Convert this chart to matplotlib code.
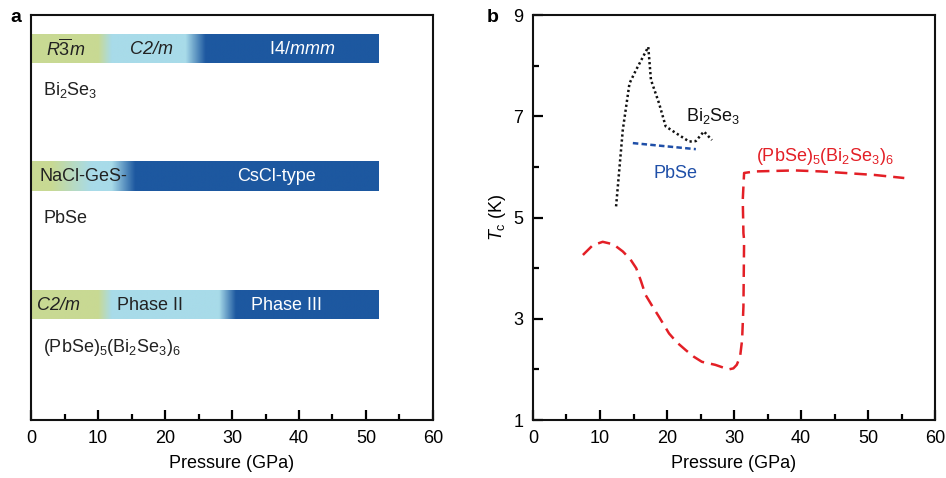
import numpy as np
import matplotlib
matplotlib.use("Agg")
import matplotlib.pyplot as plt
from matplotlib.colors import to_rgb
from matplotlib.ticker import MultipleLocator

plt.rcParams['font.family'] = ['Liberation Sans', 'DejaVu Sans']
plt.rcParams['mathtext.fontset'] = 'custom'
plt.rcParams['mathtext.rm'] = 'Liberation Sans'
plt.rcParams['mathtext.it'] = 'Liberation Sans:italic'
plt.rcParams['mathtext.bf'] = 'Liberation Sans:bold'

# ---------------- data ----------------
GREEN = '#c8d993'
LBLUE = '#a8dbe9'
DBLUE = '#1d58a0'

bar_end = 51.8
bi2se3_stops = [0, 10.0, 12.0, 23.0, 26.0, 51.8]
bi2se3_cols = [GREEN, GREEN, LBLUE, LBLUE, DBLUE, DBLUE]
pbse_stops = [0, 3.0, 9.0, 12.0, 15.5, 51.8]
pbse_cols = [GREEN, GREEN, LBLUE, LBLUE, DBLUE, DBLUE]
het_stops = [0, 10.0, 12.0, 28.0, 30.5, 51.8]
het_cols = [GREEN, GREEN, LBLUE, LBLUE, DBLUE, DBLUE]

# red dashed (PbSe)5(Bi2Se3)6
het_p = [7.45, 8.9, 10.4, 12.0, 13.4, 14.5, 15.4, 16.1, 16.8, 17.8, 18.8, 20.3, 21.5, 22.8, 24.0, 25.2, 27.2, 28.3, 29.2, 29.9, 30.4, 30.9, 31.2, 31.4, 31.5, 31.4, 31.3, 31.5, 33.1, 36.0, 39.1, 43.0, 46.5, 51.0, 55.4]
het_t = [4.26, 4.45, 4.52, 4.47, 4.33, 4.18, 4.00, 3.75, 3.47, 3.25, 3.04, 2.71, 2.53, 2.38, 2.25, 2.15, 2.09, 2.04, 2.00, 2.02, 2.09, 2.25, 2.58, 3.24, 4.56, 4.69, 5.35, 5.88, 5.91, 5.92, 5.93, 5.91, 5.88, 5.84, 5.78]

# black dotted Bi2Se3
bs_p = [12.4, 13.4, 14.4, 15.4, 17.2, 17.6, 18.8, 19.8, 21.3, 23.3, 24.3, 25.5, 26.7]
bs_t = [5.22, 6.73, 7.65, 7.92, 8.37, 7.72, 7.26, 6.80, 6.67, 6.50, 6.51, 6.70, 6.53]

# blue dashed PbSe
pb_p = [14.9, 24.3]
pb_t = [6.47, 6.35]

xticks = [0, 10, 20, 30, 40, 50, 60]
yticks_b = [1, 3, 5, 7, 9]

FS = 13

fig = plt.figure(figsize=(9.46, 4.78), dpi=100)
axa = fig.add_axes([0.0328, 0.1213, 0.4249, 0.8473])
axb = fig.add_axes([0.5634, 0.1213, 0.4251, 0.8473])

for ax in (axa, axb):
    for s in ax.spines.values():
        s.set_linewidth(1.5)
        s.set_color('#111111')
    ax.set_xlim(0, 60)
    ax.set_xticks(xticks)
    ax.xaxis.set_minor_locator(MultipleLocator(5))
    ax.tick_params(which='major', direction='in', length=7.5, width=1.6, labelsize=FS, pad=7)
    ax.tick_params(which='minor', direction='in', length=4.5, width=1.6)
    ax.set_xlabel('Pressure (GPa)', fontsize=FS, labelpad=6)

# ---------------- panel a ----------------
axa.set_ylim(0, 405)
axa.set_yticks([])
axa.tick_params(axis='y', which='both', left=False)

def grad_bar(ax, stops, cols, y0, y1):
    xs = np.linspace(0, bar_end, 600)
    rgb = np.array([to_rgb(c) for c in cols])
    img = np.stack([np.interp(xs, stops, rgb[:, k]) for k in range(3)], axis=-1)[None, :, :]
    ax.imshow(img, extent=[0, bar_end, y0, y1], aspect='auto', interpolation='bilinear', zorder=1)

grad_bar(axa, bi2se3_stops, bi2se3_cols, 357, 385)
grad_bar(axa, pbse_stops, pbse_cols, 229, 258)
grad_bar(axa, het_stops, het_cols, 101, 129)
axa.set_xlim(0, 60)
axa.set_ylim(0, 405)

txt = '#222222'
axa.text(5.1, 371, r'$R\overline{3}m$', fontsize=FS, ha='center', va='center', color=txt)
axa.text(18.0, 371, 'C2/m', fontsize=FS, style='italic', ha='center', va='center', color=txt)
axa.text(40.4, 371, r'I4/$mmm$', fontsize=FS, ha='center', va='center', color='white')
axa.text(1.3, 243.5, 'NaCl-GeS-', fontsize=FS, ha='left', va='center', color=txt)
axa.text(36.7, 243.5, 'CsCl-type', fontsize=FS, ha='center', va='center', color='white')
axa.text(0.9, 115, 'C2/m', fontsize=FS, style='italic', ha='left', va='center', color=txt)
axa.text(17.8, 115, 'Phase II', fontsize=FS, ha='center', va='center', color=txt)
axa.text(38.2, 115, 'Phase III', fontsize=FS, ha='center', va='center', color='white')

axa.text(1.8, 330, r'Bi$_2$Se$_3$', fontsize=FS, ha='left', va='center', color=txt)
axa.text(1.8, 202, 'PbSe', fontsize=FS, ha='left', va='center', color=txt)
axa.text(1.8, 73, r'(PbSe)$_5$(Bi$_2$Se$_3$)$_6$', fontsize=FS, ha='left', va='center', color=txt)

# ---------------- panel b ----------------
axb.set_ylim(1, 9)
axb.set_yticks(yticks_b)
axb.yaxis.set_minor_locator(MultipleLocator(1))
axb.set_ylabel(r'$T_{\rm c}$ (K)', fontsize=FS, labelpad=4)

axb.plot(het_p, het_t, color='#e31f26', lw=1.8, dashes=(5, 2.8), solid_capstyle='butt')
axb.plot(bs_p, bs_t, color='#111111', lw=1.8, dashes=(0.9, 1.1))
axb.plot(pb_p, pb_t, color='#1f4fa8', lw=1.8, dashes=(2.2, 1.3))

axb.text(22.8, 7.0, r'Bi$_2$Se$_3$', fontsize=FS, ha='left', va='center', color='#111111')
axb.text(21.2, 5.86, 'PbSe', fontsize=FS, ha='center', va='center', color='#1f4fa8')
axb.text(33.3, 6.2, r'(PbSe)$_5$(Bi$_2$Se$_3$)$_6$', fontsize=FS, ha='left', va='center', color='#e31f26')

fig.text(10 / 946, 1 - 18 / 478, 'a', fontsize=FS + 1, fontweight='bold', ha='left', va='center')
fig.text(487 / 946, 1 - 18 / 478, 'b', fontsize=FS + 1, fontweight='bold', ha='left', va='center')

fig.savefig('out.png', dpi=100)
